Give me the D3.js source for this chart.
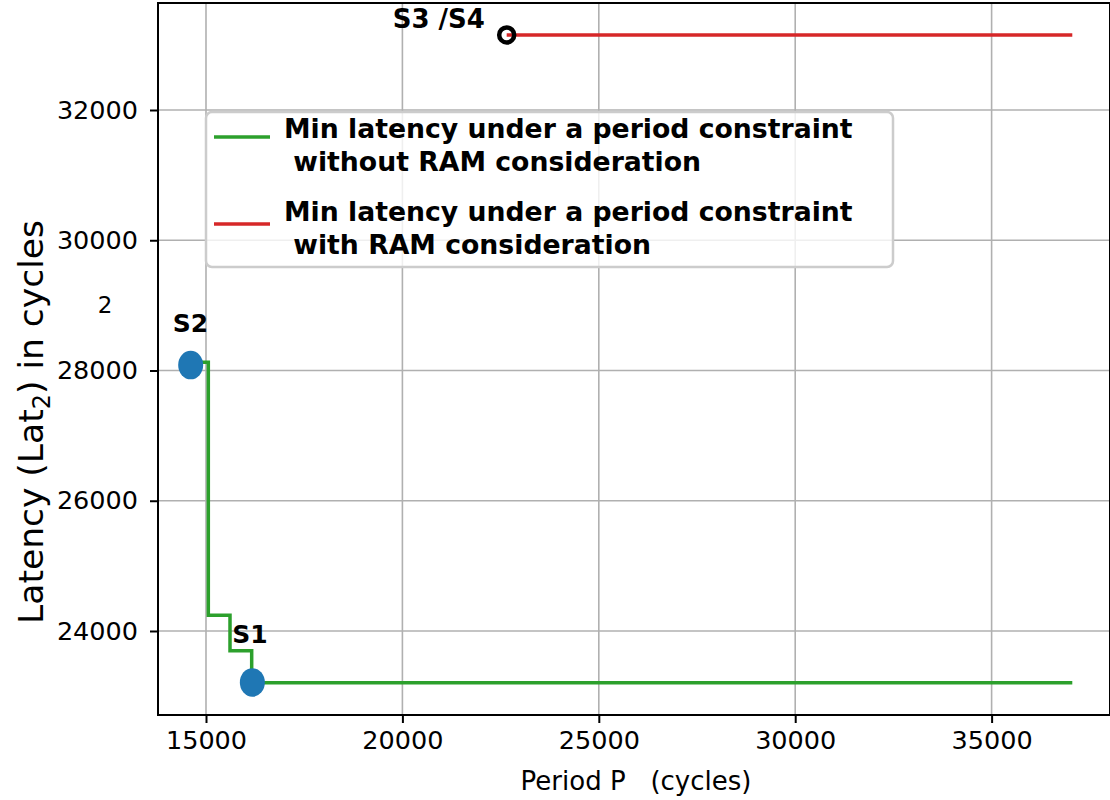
<!DOCTYPE html>
<html>
<head>
<meta charset="utf-8">
<script src="https://cdn.jsdelivr.net/npm/d3@7"></script>
<style>
  html, body { margin: 0; padding: 0; background: #fff; }
  svg { display: block; font-family: "DejaVu Sans", sans-serif; }
</style>
</head>
<body>
<svg id="chart" width="1110" height="800"></svg>
<script>
// Min latency vs period, without RAM consideration (step curve)
const stepPeriod  = [14610, 15059, 15611, 16163, 37054];
const stepLatency = [28126, 24241, 23698, 23206, 23206];

// Min latency vs period, with RAM consideration
const ramPeriod  = [22655, 37054];
const ramLatency = [33152, 33152];

// Named solution points
const pointNames   = ["S1", "S2"];
const pointPeriod  = [16180, 14610];
const pointLatency = [23210, 28084];
const ramPointName = "S3 /S4";

const xTicks = [15000, 20000, 25000, 30000, 35000];
const yTicks = [24000, 26000, 28000, 30000, 32000];

const legendLabels = [
  ["Min latency under a period constraint", " without RAM consideration"],
  ["Min latency under a period constraint", " with RAM consideration"]
];
const legendColors = ["#2ca02c", "#d62728"];

const svg = d3.select("#chart");
const plot = { left: 158, right: 1110, top: 3, bottom: 715 };

const x = d3.scaleLinear().domain([13778, 38014]).range([plot.left, plot.right]);
const y = d3.scaleLinear().domain([22710, 33643]).range([plot.bottom, plot.top]);

// grid
const grid = svg.append("g");
grid.selectAll("line.gx").data(xTicks).join("line")
  .attr("x1", d => x(d)).attr("x2", d => x(d))
  .attr("y1", plot.top).attr("y2", plot.bottom)
  .attr("stroke", "#b0b0b0").attr("stroke-width", 1.6);
grid.selectAll("line.gy").data(yTicks).join("line")
  .attr("x1", plot.left).attr("x2", plot.right)
  .attr("y1", d => y(d)).attr("y2", d => y(d))
  .attr("stroke", "#b0b0b0").attr("stroke-width", 1.6);

// axes
const xAxis = d3.axisBottom(x).tickValues(xTicks).tickFormat(d3.format("d")).tickSize(8).tickPadding(8);
const yAxis = d3.axisLeft(y).tickValues(yTicks).tickFormat(d3.format("d")).tickSize(8).tickPadding(12);

const gx = svg.append("g").attr("transform", `translate(0,${plot.bottom})`).call(xAxis);
const gy = svg.append("g").attr("transform", `translate(${plot.left},0)`).call(yAxis);
[gx, gy].forEach(g => {
  g.select(".domain").remove();
  g.selectAll(".tick line").attr("stroke", "#000").attr("stroke-width", 2);
  g.selectAll(".tick text").attr("font-family", "DejaVu Sans").attr("font-size", 25.5).attr("fill", "#000");
});

// data lines
const stepLine = d3.line().x((d, i) => x(stepPeriod[i])).y((d, i) => y(stepLatency[i])).curve(d3.curveStepAfter);
svg.append("path").attr("d", stepLine(stepPeriod))
  .attr("fill", "none").attr("stroke", legendColors[0]).attr("stroke-width", 3.5);

const ramLine = d3.line().x((d, i) => x(ramPeriod[i])).y((d, i) => y(ramLatency[i]));
svg.append("path").attr("d", ramLine(ramPeriod))
  .attr("fill", "none").attr("stroke", legendColors[1]).attr("stroke-width", 3.5);

// solution points
svg.selectAll("ellipse.pt").data(pointNames).join("ellipse")
  .attr("cx", (d, i) => x(pointPeriod[i])).attr("cy", (d, i) => y(pointLatency[i]))
  .attr("rx", 12.5).attr("ry", 14.3).attr("fill", "#1f77b4");

svg.append("circle")
  .attr("cx", x(ramPeriod[0])).attr("cy", y(ramLatency[0])).attr("r", 7.5)
  .attr("fill", "none").attr("stroke", "#000").attr("stroke-width", 4.5);

// point labels
const labelOffsets = { "S1": [-20, -39], "S2": [-18, -33] };
svg.selectAll("text.pt").data(pointNames).join("text")
  .attr("x", (d, i) => x(pointPeriod[i]) + labelOffsets[d][0])
  .attr("y", (d, i) => y(pointLatency[i]) + labelOffsets[d][1])
  .attr("font-size", 25).attr("font-weight", "bold").text(d => d);
svg.append("text")
  .attr("x", x(ramPeriod[0]) - 114).attr("y", y(ramLatency[0]) - 7)
  .attr("font-size", 26).attr("font-weight", "bold").style("white-space", "pre").text(ramPointName);

// frame
svg.append("rect")
  .attr("x", plot.left).attr("y", plot.top)
  .attr("width", plot.right - plot.left).attr("height", plot.bottom - plot.top)
  .attr("fill", "none").attr("stroke", "#000").attr("stroke-width", 2);

// legend
const lg = svg.append("g");
lg.append("rect").attr("x", 206).attr("y", 112).attr("width", 687).attr("height", 155)
  .attr("rx", 6).attr("fill", "#fff").attr("fill-opacity", 0.8)
  .attr("stroke", "#cccccc").attr("stroke-width", 2.5);
const rowTop = [137, 224];
legendLabels.forEach((lines, i) => {
  lg.append("line").attr("x1", 214).attr("x2", 270).attr("y1", rowTop[i]).attr("y2", rowTop[i])
    .attr("stroke", legendColors[i]).attr("stroke-width", 3.5);
  const t = lg.append("text").attr("x", 284).attr("y", [138, 221][i])
    .attr("font-size", 26.7).attr("font-weight", "bold").style("white-space", "pre");
  lines.forEach((s, j) => t.append("tspan").attr("x", 284).attr("dy", j === 0 ? 0 : 32.5).text(s));
});

// axis titles
svg.append("text").attr("x", 636).attr("y", 790).attr("text-anchor", "middle")
  .attr("font-size", 26).style("white-space", "pre").text("Period P   (cycles)");

const yl = svg.append("text").attr("transform", "translate(43,422) rotate(-90)")
  .attr("text-anchor", "middle").attr("font-size", 34.5);
yl.append("tspan").text("Latency (Lat");
yl.append("tspan").attr("font-size", 24).attr("dy", 7).text("2");
yl.append("tspan").attr("dy", -7).text(") in cycles");

svg.append("text").attr("x", 105).attr("y", 313).attr("text-anchor", "middle")
  .attr("font-size", 23).text("2");
</script>
</body>
</html>
